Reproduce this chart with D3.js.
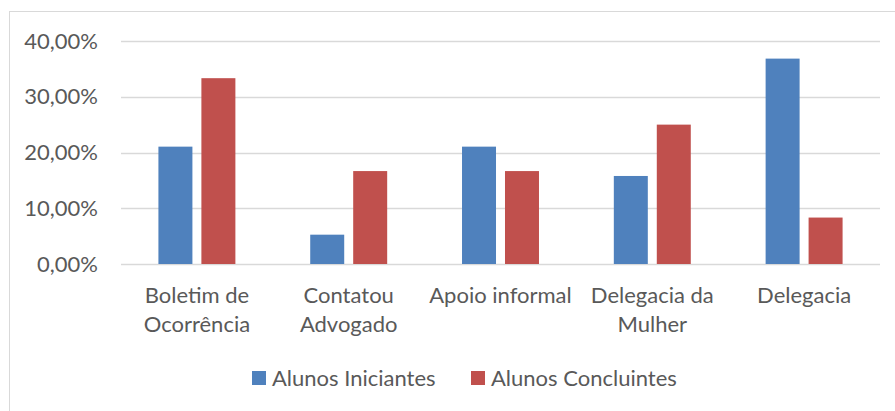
<!DOCTYPE html>
<html>
<head>
<meta charset="utf-8">
<script src="https://cdn.jsdelivr.net/npm/d3@7"></script>
<style>
  body { margin: 0; background: #fff; }
  svg { display: block; }
</style>
</head>
<body>
<div id="chart"></div>
<script>
// chart values
const categories = [["Boletim de", "Ocorrência"], ["Contatou", "Advogado"], ["Apoio informal"], ["Delegacia da", "Mulher"], ["Delegacia"]];
const seriesNames = ["Alunos Iniciantes", "Alunos Concluintes"];
const iniciantes = [21.05, 5.26, 21.05, 15.79, 36.84];
const concluintes = [33.33, 16.67, 16.67, 25.0, 8.33];
const yTicks = [0, 10, 20, 30, 40];
const colors = ["#4f81bd", "#c0504d"];

const width = 895, height = 411;
const margin = {top: 41, right: 15, bottom: 147, left: 121};
const font = "Lato, 'Liberation Sans', sans-serif";
const fontSize = "22px";

const svg = d3.select("#chart").append("svg")
    .attr("width", width)
    .attr("height", height)
    .style("font-family", font);

// outer frame
svg.append("rect")
    .attr("x", 9.5).attr("y", 11.5)
    .attr("width", width).attr("height", height)
    .attr("fill", "none")
    .attr("stroke", "#d9d9d9");

const x0 = d3.scaleBand()
    .domain(d3.range(categories.length))
    .range([margin.left, width - margin.right])
    .paddingInner(0.493)
    .paddingOuter(0.2465);

const x1 = d3.scaleBand()
    .domain(d3.range(seriesNames.length))
    .range([0, x0.bandwidth()])
    .paddingInner(0.209);

const y = d3.scaleLinear()
    .domain([0, 40])
    .range([height - margin.bottom, margin.top]);

// gridlines
svg.append("g")
    .selectAll("line")
    .data(yTicks)
    .join("line")
      .attr("x1", margin.left)
      .attr("x2", width - margin.right)
      .attr("y1", d => Math.round(y(d)) + 0.5)
      .attr("y2", d => Math.round(y(d)) + 0.5)
      .attr("stroke", "#d9d9d9")
      .attr("stroke-width", 1.3);

// y tick labels
svg.append("g")
    .selectAll("text")
    .data(yTicks)
    .join("text")
      .attr("x", 98)
      .attr("y", d => y(d))
      .attr("dy", "0.35em")
      .attr("text-anchor", "end")
      .attr("fill", "#595959")
      .style("font-size", fontSize)
      .text(d => d3.format(".2f")(d).replace(".", ",") + "%");

// bars
const rows = categories.map((c, i) => [iniciantes[i], concluintes[i]]);

const group = svg.append("g")
    .selectAll("g")
    .data(rows)
    .join("g")
      .attr("transform", (d, i) => `translate(${x0(i)},0)`);

group.selectAll("rect")
    .data(d => d)
    .join("rect")
      .attr("x", (d, j) => x1(j))
      .attr("y", d => y(d))
      .attr("width", x1.bandwidth())
      .attr("height", d => y(0) - y(d))
      .attr("fill", (d, j) => colors[j]);

// category labels
const catLabels = svg.append("g")
    .selectAll("text")
    .data(categories)
    .join("text")
      .attr("text-anchor", "middle")
      .attr("fill", "#595959")
      .style("font-size", fontSize)
      .attr("transform", (d, i) => `translate(${x0(i) + x0.bandwidth() / 2},303)`);

catLabels.selectAll("tspan")
    .data(d => d)
    .join("tspan")
      .attr("x", 0)
      .attr("y", (d, i) => i * 29)
      .text(d => d);

// legend
const legendX = [252, 471];
const legend = svg.append("g")
    .selectAll("g")
    .data(seriesNames)
    .join("g")
      .attr("transform", (d, i) => `translate(${legendX[i]},371)`);

legend.append("rect")
    .attr("width", 14)
    .attr("height", 14)
    .attr("fill", (d, i) => colors[i]);

legend.append("text")
    .attr("x", 20)
    .attr("y", 7)
    .attr("dy", "0.35em")
    .attr("fill", "#595959")
    .style("font-size", fontSize)
    .text(d => d);
</script>
</body>
</html>
